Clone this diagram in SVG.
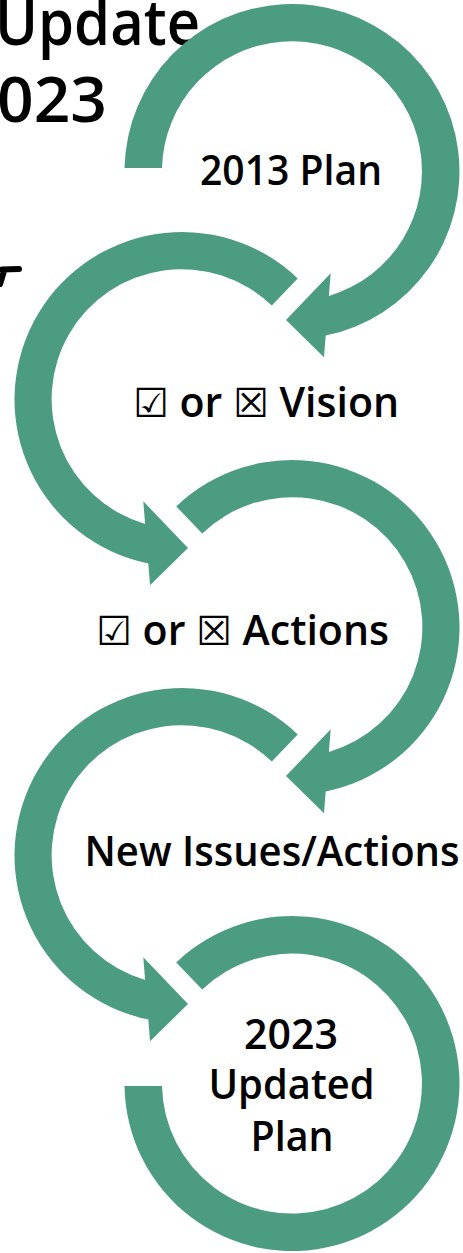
<svg xmlns="http://www.w3.org/2000/svg" xmlns:xlink="http://www.w3.org/1999/xlink" width="463" height="1253" viewBox="0 0 463 1253">
  <style>
    .band { fill: #4C9C82; }
    .lbl { font-family: "Open Sans", "Noto Sans", "DejaVu Sans", sans-serif; font-weight: 600; font-size: 41px; fill: #000; text-anchor: middle; }
    .box { font-family: "DejaVu Sans", sans-serif; font-weight: 700; font-size: 40px; }
    .title { font-family: "Open Sans", "Noto Sans", sans-serif; font-weight: 600; font-size: 64px; fill: #000; }
  </style>
  <defs>
    <!-- circular arrow centred on the origin: outer R 167.5, inner r 130,
         radial cut at 226.3deg, clockwise to an arrowhead near 78deg -->
    <path id="loop-arrow" class="band" d="M -115.7 -121.1 A 167.5 167.5 0 1 1 33.7 164.1 L 32 185.8 L -6 148.5 L 38.7 101.8 L 36.9 124.4 A 130 130 0 1 0 -89.8 -94 Z"/>
  </defs>

  <!-- heading, partly off the left edge -->
  <g id="heading">
    <text class="title" x="-5" y="45" textLength="205" lengthAdjust="spacingAndGlyphs">Update</text>
    <text class="title" x="-3" y="122" textLength="110" lengthAdjust="spacingAndGlyphs">023</text>
    <path d="M0 284 L4 271 M2 269.5 L19 269" fill="none" stroke="#000" stroke-width="6" stroke-linecap="round"/>
  </g>

  <!-- loop arrows linking the steps -->
  <g id="connectors">
    <path id="arrow-1" class="band" transform="translate(292,171.5)" d="M -167.5 -3.5 A 167.5 167.5 0 1 1 33.7 164.1 L 32 185.8 L -6 148.5 L 38.7 101.8 L 36.9 124.4 A 130 130 0 1 0 -130 -3.5 Z"/>
    <use id="arrow-2" xlink:href="#loop-arrow" href="#loop-arrow" transform="translate(182,399.5) scale(-1,1)"/>
    <use id="arrow-3" xlink:href="#loop-arrow" href="#loop-arrow" transform="translate(292,627.5)"/>
    <use id="arrow-4" xlink:href="#loop-arrow" href="#loop-arrow" transform="translate(182,855.5) scale(-1,1)"/>
    <path id="arrow-5" class="band" transform="translate(292,1083.5)" d="M -115.7 -121.1 A 167.5 167.5 0 1 1 -167.5 2.5 L -130 2.5 A 130 130 0 1 0 -89.8 -94 Z"/>
  </g>

  <!-- step labels -->
  <g id="step-2013-plan">
    <text class="lbl" x="291" y="185" textLength="182" lengthAdjust="spacingAndGlyphs">2013 Plan</text>
  </g>
  <g id="step-vision">
    <text class="lbl" x="266" y="417" textLength="266" lengthAdjust="spacingAndGlyphs"><tspan class="box">☑</tspan> or <tspan class="box">☒</tspan> Vision</text>
  </g>
  <g id="step-actions">
    <text class="lbl" x="242.5" y="645" textLength="293" lengthAdjust="spacingAndGlyphs"><tspan class="box">☑</tspan> or <tspan class="box">☒</tspan> Actions</text>
  </g>
  <g id="step-new-issues">
    <text class="lbl" x="272" y="866" textLength="375" lengthAdjust="spacingAndGlyphs">New Issues/Actions</text>
  </g>
  <g id="step-2023-plan">
    <text class="lbl" x="291" y="1049" textLength="94" lengthAdjust="spacingAndGlyphs">2023</text>
    <text class="lbl" x="291.5" y="1099" textLength="166" lengthAdjust="spacingAndGlyphs">Updated</text>
    <text class="lbl" x="292" y="1151" textLength="83" lengthAdjust="spacingAndGlyphs">Plan</text>
  </g>
</svg>
